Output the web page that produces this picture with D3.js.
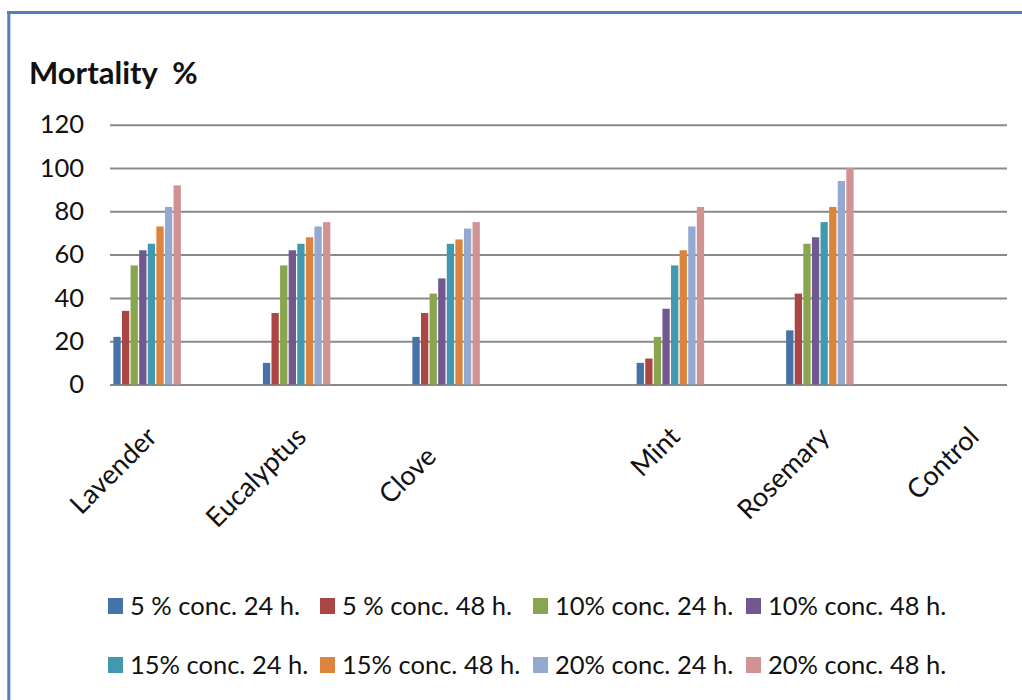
<!DOCTYPE html>
<html>
<head>
<meta charset="utf-8">
<script src="https://cdn.jsdelivr.net/npm/d3@7/dist/d3.min.js"></script>
<style>
  html, body { margin: 0; padding: 0; background: #fff; }
  svg { display: block; font-family: Lato, "Open Sans", sans-serif; }
</style>
</head>
<body>
<svg id="chart" width="1022" height="700"></svg>
<script>
// Category slots along the x axis (blank slots are empty spreadsheet rows)
const categories = ["Lavender", "", "Eucalyptus", "", "Clove    ", "", "", "Mint", "", "Rosemary", "", "Control"];

// Mortality (%) per treatment
const conc5h24  = [22, null, 10, null, 22, null, null, 10, null, 25, null, 0];
const conc5h48  = [34, null, 33, null, 33, null, null, 12, null, 42, null, 0];
const conc10h24 = [55, null, 55, null, 42, null, null, 22, null, 65, null, 0];
const conc10h48 = [62, null, 62, null, 49, null, null, 35, null, 68, null, 0];
const conc15h24 = [65, null, 65, null, 65, null, null, 55, null, 75, null, 0];
const conc15h48 = [73, null, 68, null, 67, null, null, 62, null, 82, null, 0];
const conc20h24 = [82, null, 73, null, 72, null, null, 73, null, 94, null, 0];
const conc20h48 = [92, null, 75, null, 75, null, null, 82, null, 100, null, 0];

const seriesNames = [
  "5 % conc. 24 h.", "5 % conc. 48 h.", "10% conc. 24 h.", "10% conc. 48 h.",
  "15% conc. 24 h.", "15% conc. 48 h.", "20% conc. 24 h.", "20% conc. 48 h."
];
const seriesValues = [conc5h24, conc5h48, conc10h24, conc10h48, conc15h24, conc15h48, conc20h24, conc20h48];
const colors = ["#4572A7", "#AA4643", "#89A54E", "#71588F", "#4198AF", "#DB843D", "#93A9CF", "#D19392"];

const yTicks = [0, 20, 40, 60, 80, 100, 120];

const svg = d3.select("#chart");

// frame lines (top and left)
svg.append("line").attr("x1", 7).attr("x2", 1022).attr("y1", 12.5).attr("y2", 12.5)
  .attr("stroke", "#4F81BD").attr("stroke-width", 3);
svg.append("line").attr("x1", 8.8).attr("x2", 8.8).attr("y1", 11).attr("y2", 700)
  .attr("stroke", "#4F81BD").attr("stroke-width", 3);

const plot = { left: 110, right: 1007, top: 124.7, bottom: 384.5 };

const x0 = d3.scaleBand()
  .domain(d3.range(categories.length))
  .range([plot.left, plot.right])
  .paddingInner(0.08)
  .paddingOuter(0.04);

const x1 = d3.scaleBand()
  .domain(d3.range(seriesNames.length))
  .range([0, x0.bandwidth()]);

const y = d3.scaleLinear().domain([0, 120]).range([plot.bottom, plot.top]);

// title
svg.append("text")
  .attr("x", 29).attr("y", 84)
  .attr("font-size", 31).attr("font-weight", "bold").attr("fill", "#111")
  .style("white-space", "pre")
  .text("Mortality  %");

// gridlines + y labels
const yAxis = d3.axisLeft(y).tickValues(yTicks)
  .tickSize(-(plot.right - plot.left)).tickPadding(26).tickFormat(d3.format("d"));
const gy = svg.append("g").attr("transform", `translate(${plot.left},0)`).call(yAxis);
gy.select(".domain").remove();
gy.selectAll(".tick line").attr("stroke", "#8a8a8a").attr("stroke-width", 2);
gy.selectAll(".tick text").attr("font-size", 25.5).attr("fill", "#111")
  .attr("font-family", "Lato, 'Open Sans', sans-serif");

// bars
const groups = svg.append("g").selectAll("g")
  .data(categories.map((c, i) => i))
  .join("g")
  .attr("transform", i => `translate(${x0(i)},0)`);

groups.selectAll("rect")
  .data(i => seriesValues.map((vals, s) => ({ s, v: vals[i] })).filter(d => d.v !== null && d.v > 0))
  .join("rect")
  .attr("x", d => x1(d.s) + 0.4)
  .attr("width", x1.bandwidth() - 1.3)
  .attr("y", d => y(d.v))
  .attr("height", d => y(0) - y(d.v))
  .attr("fill", d => colors[d.s]);

// category labels rotated
const xAxis = d3.axisBottom(x0).tickSize(0).tickPadding(0).tickFormat(i => categories[i]);
const gx = svg.append("g").attr("transform", `translate(0,${plot.bottom})`).call(xAxis);
gx.select(".domain").remove();
gx.selectAll(".tick text")
  .attr("font-size", 27).attr("fill", "#111")
  .attr("font-family", "Lato, 'Open Sans', sans-serif")
  .style("white-space", "pre")
  .attr("text-anchor", "end")
  .attr("dy", 0)
  .attr("y", 0)
  .attr("transform", "translate(11,54) rotate(-45)");

// legend
const legendCols = [108, 320, 533, 746];
const legendRows = [606, 665];
const legend = svg.append("g").selectAll("g")
  .data(seriesNames)
  .join("g")
  .attr("transform", (d, i) => `translate(${legendCols[i % 4]},${legendRows[Math.floor(i / 4)]})`);
legend.append("rect").attr("x", 0).attr("y", -8).attr("width", 15).attr("height", 16)
  .attr("fill", (d, i) => colors[i]);
legend.append("text").attr("x", 22).attr("y", 9)
  .attr("font-size", 25.5).attr("fill", "#111")
  .text(d => d);
</script>
</body>
</html>
